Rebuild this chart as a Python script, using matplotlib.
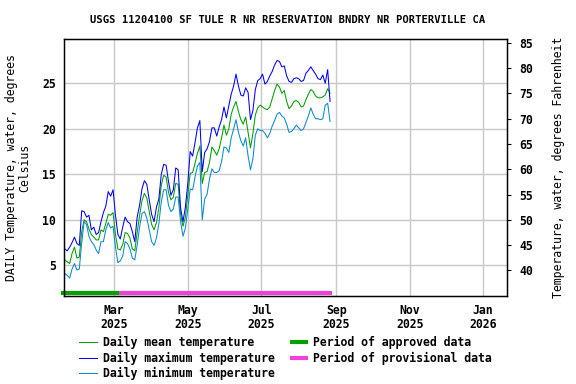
import numpy as np
import matplotlib
matplotlib.use("Agg")
import matplotlib.pyplot as plt

# station + series (every 2nd day)
title = "USGS 11204100 SF TULE R NR RESERVATION BNDRY NR PORTERVILLE CA"
first_day = "2025-01-19"
step_days = 2

max_temp = [6.8, 6.6, 7.0, 7.5, 8.1, 7.4, 7.2, 11.0, 10.9, 10.3,
            10.5, 8.9, 9.2, 8.4, 8.6, 9.8, 10.8, 11.5, 13.1, 12.6,
            13.3, 10.5, 8.4, 7.9, 9.2, 10.3, 9.8, 9.6, 8.7, 7.6,
            10.3, 11.6, 13.4, 14.3, 13.9, 12.2, 10.6, 9.8, 11.4, 12.3,
            15.0, 16.1, 16.0, 14.2, 12.7, 13.3, 15.7, 15.5, 11.3, 9.8,
            11.4, 14.0, 17.5, 17.0, 18.5, 20.1, 20.9, 15.3, 17.4, 17.8,
            18.6, 20.1, 20.1, 19.2, 20.2, 21.0, 22.4, 21.2, 22.5, 23.8,
            24.7, 26.0, 24.7, 23.7, 23.6, 24.5, 24.0, 21.0, 22.0, 24.3,
            25.3, 25.5, 26.0, 24.9, 25.2, 25.8, 26.3, 27.0, 27.5, 27.4,
            26.8, 26.9, 25.8, 25.2, 25.1, 25.5, 25.6, 25.5, 25.2, 25.3,
            26.1, 26.4, 26.8, 26.4, 26.0, 25.5, 25.4, 25.9, 25.0, 26.5,
            23.0]

mean_temp = [5.6, 5.4, 5.2, 6.3, 7.0, 5.8, 5.9, 8.7, 10.0, 9.8,
             9.0, 8.4, 8.1, 7.8, 7.8, 8.9, 8.7, 9.6, 10.6, 10.5,
             10.8, 8.4, 6.8, 6.7, 7.3, 8.6, 8.5, 8.0, 6.8, 6.6,
             8.6, 10.5, 12.1, 12.9, 12.4, 10.9, 9.5, 8.9, 9.7, 11.3,
             13.8, 14.9, 14.7, 13.0, 12.2, 12.5, 14.0, 13.9, 10.6, 9.3,
             10.3, 12.7, 15.1, 15.2, 16.2, 17.3, 18.1, 14.0, 15.2, 15.3,
             16.3, 18.0, 17.6, 17.1, 17.8, 19.0, 20.4, 19.3, 20.0, 21.6,
             22.4, 23.0, 21.9, 21.0, 20.5, 21.3, 19.6, 17.9, 19.5, 21.5,
             22.3, 22.6, 22.4, 22.2, 22.1, 22.4, 23.3, 24.2, 24.9, 24.6,
             23.9, 24.2, 23.0, 22.2, 22.5, 23.0, 23.1, 22.9, 22.4, 22.5,
             23.2, 23.8, 24.3, 24.1, 23.6, 23.4, 23.4, 23.5, 23.7, 24.4,
             23.9]

min_temp = [4.1, 3.9, 3.6, 4.6, 5.2, 4.5, 4.6, 7.5, 9.8, 9.5,
            8.2, 7.6, 7.3, 6.7, 6.3, 7.6, 7.6, 8.9, 9.7, 9.1,
            9.3, 7.0, 5.3, 5.5, 6.0, 7.6, 7.4, 6.8, 5.8, 5.6,
            7.2, 9.2, 10.7, 10.9, 10.2, 8.9, 7.6, 7.2, 8.0, 9.6,
            12.0, 13.3, 13.3, 11.6, 10.9, 11.2, 12.5, 12.5, 9.8, 8.2,
            9.1, 11.2, 13.4, 13.3, 14.7, 15.9, 16.3, 10.0, 12.3, 12.8,
            14.5, 15.6, 15.2, 15.2, 15.4, 16.4, 18.0, 17.9, 17.4, 19.0,
            20.0, 21.0, 19.6, 18.7, 18.1, 19.0, 17.0, 15.5, 16.7, 19.3,
            20.0, 19.8, 19.8, 19.5, 19.0, 19.5, 20.3, 20.9, 21.6, 21.8,
            21.4, 21.2, 20.5, 19.6, 19.7, 20.0, 20.4, 20.1, 19.8, 20.0,
            20.7, 21.4, 22.3, 21.6, 21.1, 21.1, 21.0, 21.1, 22.6, 22.8,
            20.8]

approved_period = ["2025-01-16", "2025-03-05"]
provisional_period = ["2025-03-05", "2025-08-29"]

tick_dates = ["2025-03-01", "2025-05-01", "2025-07-01",
              "2025-09-01", "2025-11-01", "2026-01-01"]
tick_labels = ["Mar\n2025", "May\n2025", "Jul\n2025",
               "Sep\n2025", "Nov\n2025", "Jan\n2026"]
c_ticks = [5, 10, 15, 20, 25]
f_ticks = [40, 45, 50, 55, 60, 65, 70, 75, 80, 85]

plt.rcParams['font.family'] = ['DejaVu Sans Mono']
plt.rcParams['font.weight'] = 'bold'
plt.rcParams['font.size'] = 8.3


def to_dt(s):
    return np.datetime64(s).astype('datetime64[s]').astype(object)


days = np.datetime64(first_day) + step_days * np.arange(len(mean_temp))
days = days.astype('datetime64[D]').astype(object)

fig = plt.figure(figsize=(5.76, 3.84), dpi=100)
ax = fig.add_axes([0.1115, 0.229, 0.768, 0.669])

ax.plot(days, mean_temp, color='#00a000', lw=0.75, label='Daily mean temperature')
ax.plot(days, max_temp, color='#0000ff', lw=0.75, label='Daily maximum temperature')
ax.plot(days, min_temp, color='#0a8ad0', lw=0.75, label='Daily minimum temperature')

bar_y = 2.0
ax.plot([to_dt(d) for d in approved_period], [bar_y, bar_y], color='#00a000',
        lw=3, solid_capstyle='butt', clip_on=False, label='Period of approved data')
ax.plot([to_dt(d) for d in provisional_period], [bar_y, bar_y], color='#f040d8',
        lw=3, solid_capstyle='butt', label='Period of provisional data')

ax.set_xlim(to_dt('2025-01-18T12'), to_dt('2026-01-20T10'))
ax.set_ylim(1.63, 29.84)
ax.set_xticks([to_dt(d) for d in tick_dates])
ax.set_xticklabels(tick_labels, linespacing=1.1)
ax.set_yticks(c_ticks)
ax.grid(True, color='#c8c8c8', lw=1)
ax.set_axisbelow(True)
ax.tick_params(axis='y', length=0, pad=6)
ax.tick_params(axis='x', length=0, pad=6)
for s in ax.spines.values():
    s.set_linewidth(1)

ax.set_ylabel("DAILY Temperature, water, degrees\nCelsius", labelpad=8,
              linespacing=1.0)

ax2 = ax.twinx()
lo, hi = ax.get_ylim()
ax2.set_ylim(lo * 9 / 5 + 32, hi * 9 / 5 + 32)
ax2.set_yticks(f_ticks)
ax2.tick_params(length=3, width=0.8, pad=6)
ax2.set_ylabel("Temperature, water, degrees Fahrenheit", labelpad=14)

fig.text(0.5, 0.948, title, ha='center', va='center', fontsize=7.6)

h, l = ax.get_legend_handles_labels()
fig.legend(h, l, loc='upper left', bbox_to_anchor=(0.137, 0.125),
           ncol=2, frameon=False, handlelength=1.56, handletextpad=0.5,
           columnspacing=1.3, labelspacing=0.22, borderaxespad=0,
           borderpad=0)

fig.savefig("out.png", dpi=100)
